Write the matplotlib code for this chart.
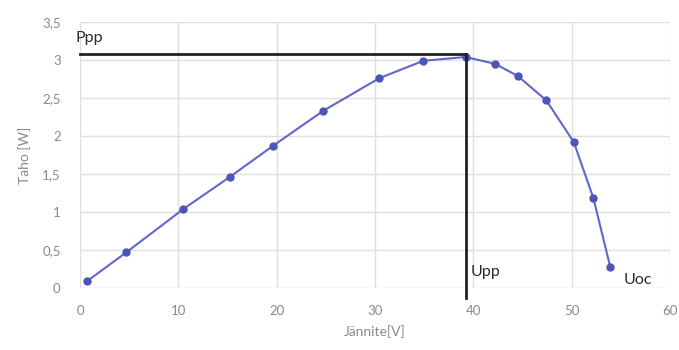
import matplotlib
matplotlib.use("Agg")
import matplotlib.pyplot as plt
from matplotlib.ticker import FuncFormatter

# measured points (voltage V, power W)
jannite = [0.7, 4.7, 10.5, 15.2, 19.6, 24.7, 30.4, 34.9, 39.2, 42.2, 44.5, 47.4, 50.2, 52.2, 53.9]
teho = [0.09, 0.47, 1.04, 1.46, 1.87, 2.33, 2.76, 2.99, 3.04, 2.95, 2.79, 2.47, 1.92, 1.18, 0.28]

# maximum power point guides
upp = 39.2
ppp = 3.08

x_ticks = [0, 10, 20, 30, 40, 50, 60]
y_ticks = [0, 0.5, 1, 1.5, 2, 2.5, 3, 3.5]

plt.rcParams['font.family'] = ['Lato', 'DejaVu Sans']

fig = plt.figure(figsize=(6.79, 3.5), dpi=100)
ax = fig.add_axes([0.118, 0.177, 0.869, 0.760])

ax.plot(jannite, teho, color='#6266cc', lw=1.5, marker='o', ms=5,
        markerfacecolor='#4c55b8', markeredgecolor='#4c55b8', zorder=3)

# Ppp / Upp lines
ax.plot([0, upp], [ppp, ppp], color='#222222', lw=2.0, zorder=4, clip_on=False)
ax.plot([upp, upp], [ppp, -0.13], color='#222222', lw=2.0, zorder=4, clip_on=False)

ax.text(-0.5, 3.2, 'Ppp', fontsize=11.5, color='#2a2a2a', ha='left', va='bottom')
ax.text(upp + 0.5, 0.12, 'Upp', fontsize=11.5, color='#2a2a2a', ha='left', va='bottom')
ax.text(55.3, 0.02, 'Uoc', fontsize=11.5, color='#2a2a2a', ha='left', va='bottom')

ax.set_xlim(0, 60)
ax.set_ylim(0, 3.5)
ax.set_xticks(x_ticks)
ax.set_yticks(y_ticks)
ax.yaxis.set_major_formatter(FuncFormatter(lambda v, p: ('%g' % v).replace('.', ',')))

ax.grid(True, color='#e0e0e0', lw=1.0)
ax.set_axisbelow(True)
for s in ax.spines.values():
    s.set_visible(False)
ax.tick_params(length=0, colors='#8a8a8a', labelsize=9.5)
ax.tick_params(axis='x', pad=12)
ax.tick_params(axis='y', pad=14)

ax.set_xlabel('Jännite[V]', fontsize=10, color='#8a8a8a', labelpad=6)
ax.set_ylabel('Taho [W]', fontsize=10, color='#8a8a8a', labelpad=8)

fig.savefig('out.png', dpi=100, facecolor='white')
